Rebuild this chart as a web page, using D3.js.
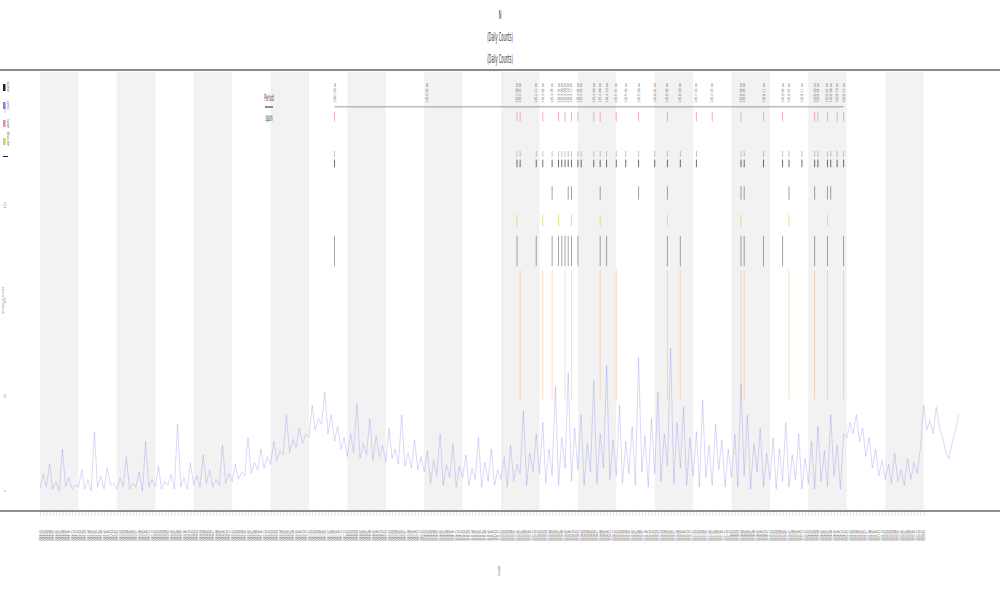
<!DOCTYPE html>
<html lang="en">
<head>
<meta charset="UTF-8">
<script src="https://d3js.org/d3.v7.min.js"></script>
<style>
  body { margin: 0; background: #fff; }
  svg { display: block; font-family: "DejaVu Sans", sans-serif; }
</style>
<title>Counts</title>
</head>
<body>
<script>
// ---- data ----
const titleLines = ["N", "(Daily Counts)", "(Daily Counts)"];
const legendLabels = ["events", "count", "alerts", "warnings", "mean"];
const legendColors = ["#222", "#8a7fd8", "#e58aa8", "#c8d84a", "#222"];
const yTicks = [0, 50, 100, 150, 200];

// monthly values, 2000-01 .. 2023-12 (12 per row)
const counts = [
  1, 9, 2, 14, 1, 5, 0, 22, 2, 7, 1, 3,
  2, 11, 1, 6, 0, 31, 2, 8, 1, 12, 3, 4,
  1, 7, 2, 18, 1, 4, 2, 10, 0, 26, 2, 6,
  2, 13, 1, 5, 3, 9, 1, 35, 2, 7, 1, 15,
  3, 8, 2, 19, 4, 11, 2, 6, 3, 24, 4, 9,
  5, 14, 6, 10, 8, 28, 9, 15, 11, 22, 12, 18,
  14, 26, 16, 21, 19, 40, 20, 27, 23, 33, 25, 30,
  28, 45, 32, 38, 35, 52, 30, 40, 26, 34, 22, 28,
  18, 30, 20, 46, 17, 25, 19, 38, 16, 29, 18, 24,
  15, 33, 17, 22, 14, 40, 13, 20, 12, 27, 11, 18,
  10, 21, 4, 16, 8, 30, 3, 14, 7, 25, 2, 13,
  7, 19, 3, 12, 6, 28, 2, 15, 5, 22, 3, 11,
  6, 18, 2, 24, 5, 14, 9, 42, 3, 20, 10, 30,
  9, 36, 4, 22, 8, 55, 3, 28, 12, 62, 5, 33,
  11, 40, 3, 25, 10, 58, 4, 30, 12, 66, 6, 27,
  8, 45, 4, 26, 9, 34, 3, 70, 10, 29, 2, 38,
  9, 52, 5, 30, 13, 75, 4, 36, 12, 44, 3, 28,
  8, 31, 2, 48, 7, 24, 3, 35, 11, 27, 2, 22,
  7, 30, 2, 56, 8, 40, 1, 25, 10, 33, 2, 20,
  6, 28, 1, 22, 5, 36, 2, 19, 6, 30, 1, 17,
  4, 26, 1, 34, 5, 21, 2, 40, 8, 24, 1, 30,
  28, 36, 30, 40, 26, 33, 18, 28, 12, 22, 8, 16,
  6, 14, 4, 20, 5, 11, 3, 17, 6, 15, 9, 22,
  45, 32, 37, 30, 44, 33, 28, 20, 17, 26, 32, 40
];

const eventDates = [
  "2007-09", "2010-02", "2012-06", "2012-07", "2012-12", "2013-02", "2013-05",
  "2013-07", "2013-08", "2013-09", "2013-10", "2013-11", "2014-01", "2014-02",
  "2014-06", "2014-08", "2014-10", "2015-01", "2015-04", "2015-08", "2016-01",
  "2016-05", "2016-09", "2017-02", "2017-07", "2018-04", "2018-05", "2018-11",
  "2019-05", "2019-07", "2019-11", "2020-03", "2020-04", "2020-07", "2020-08",
  "2020-10", "2020-12"
];
// which marker rows each event shows
const eventRows = [
  "RKB", "", "RKYB", "RKO", "KB", "RKYO", "KDBO",
  "RKYB", "KB", "RKBO", "KDB", "RKDYBO", "RKB", "K",
  "RK", "RKDYBO", "KB", "RKO", "K", "RKD", "K",
  "RKDYBO", "KBO", "RK", "R", "RKDYBO", "KDBO", "RKB",
  "RKB", "KDYO", "K", "RKDBO", "RK", "RKDYBO", "KD",
  "RK", "RKBO"
];

// ---- layout ----
const width = 1000, height = 600;
const parseMonth = d3.timeParse("%Y-%m");
const start = new Date(2000, 0, 1), end = new Date(2024, 0, 1);

const x = d3.scaleTime().domain([start, end]).range([40, 962]);
const y = d3.scaleLinear().domain([-10, 220]).range([510, 72]);

// marker rows, in y units
const rowStyle = {
  R: { lo: 194, hi: 199, color: "#e06060", w: 0.6, op: 0.8 },
  K: { lo: 170, hi: 174, color: "#333", w: 0.9, op: 0.8 },
  D: { lo: 153, hi: 160, color: "#444", w: 0.7, op: 0.7 },
  Y: { lo: 139, hi: 145, color: "#d8d040", w: 0.8, op: 0.8 },
  B: { lo: 118, hi: 134, color: "#333", w: 0.8, op: 0.55 },
  O: { lo: 48, hi: 116, color: "#f0a060", w: 0.6, op: 0.6 }
};

const series = counts.map((v, i) => ({ date: d3.timeMonth.offset(start, i), v }));
const events = eventDates.map((d, i) => ({ date: parseMonth(d), rows: eventRows[i], label: d + " ev" }));

const svg = d3.select("body").append("svg")
    .attr("width", width)
    .attr("height", height);

// alternating year bands
const years = d3.timeYears(start, end);
svg.append("g").selectAll("rect")
  .data(years.filter(d => d.getFullYear() % 2 === 0))
  .join("rect")
    .attr("x", d => x(d))
    .attr("width", d => x(d3.timeYear.offset(d, 1)) - x(d))
    .attr("y", y(220))
    .attr("height", y(-10) - y(220))
    .attr("fill", "#f2f2f2");

// title
svg.append("g").selectAll("text")
  .data(titleLines)
  .join("text")
    .attr("transform", (d, i) => `translate(500, ${19 + i * 22}) scale(0.3, 1)`)
    .attr("text-anchor", "middle")
    .attr("font-size", 12)
    .attr("fill", "#333")
    .text(d => d);

svg.append("line")
    .attr("x1", 0).attr("x2", width)
    .attr("y1", 70).attr("y2", 70)
    .attr("stroke", "#8a8a8a").attr("stroke-width", 2);

// main series
svg.append("path")
    .datum(series)
    .attr("fill", "none")
    .attr("stroke", "#7f7fe6")
    .attr("stroke-opacity", 0.5)
    .attr("stroke-width", 0.6)
    .attr("d", d3.line().x(d => x(d.date)).y(d => y(d.v)));

// event span line
svg.append("line")
    .attr("x1", x(events[0].date))
    .attr("x2", x(events[events.length - 1].date))
    .attr("y1", y(201.7)).attr("y2", y(201.7))
    .attr("stroke", "#999").attr("stroke-width", 1);

// event labels
svg.append("g").selectAll("text")
  .data(events)
  .join("text")
    .attr("transform", d => `translate(${x(d.date) + 1}, ${y(204)}) rotate(-90)`)
    .attr("font-size", 3.4)
    .attr("fill", "#777")
    .text(d => d.label);

// event marker rows
const marks = [];
events.forEach(e => e.rows.split("").forEach(r => marks.push({ date: e.date, r })));
svg.append("g").selectAll("line")
  .data(marks)
  .join("line")
    .attr("x1", d => x(d.date)).attr("x2", d => x(d.date))
    .attr("y1", d => y(rowStyle[d.r].lo))
    .attr("y2", d => y(rowStyle[d.r].hi))
    .attr("stroke", d => rowStyle[d.r].color)
    .attr("stroke-width", d => rowStyle[d.r].w)
    .attr("stroke-opacity", d => rowStyle[d.r].op);
// second small mark over the K row
svg.append("g").selectAll("line")
  .data(marks.filter(d => d.r === "K"))
  .join("line")
    .attr("x1", d => x(d.date)).attr("x2", d => x(d.date))
    .attr("y1", y(175.5)).attr("y2", y(178.5))
    .attr("stroke", "#999").attr("stroke-width", 0.6);

// span legend
const spanLeg = svg.append("g").attr("transform", "translate(269, 0)");
spanLeg.append("text").attr("transform", "translate(0, 101) scale(0.3, 1)")
    .attr("text-anchor", "middle").attr("font-size", 10).attr("fill", "#444").text("Period");
spanLeg.append("line").attr("x1", -4).attr("x2", 4).attr("y1", 107).attr("y2", 107)
    .attr("stroke", "#222").attr("stroke-width", 1);
spanLeg.append("text").attr("transform", "translate(0, 121) scale(0.3, 1)")
    .attr("text-anchor", "middle").attr("font-size", 10).attr("fill", "#444").text("span");

// legend
const leg = svg.append("g").selectAll("g")
  .data(legendLabels)
  .join("g")
    .attr("transform", (d, i) => `translate(3, ${88 + i * 18})`);
leg.append("rect")
    .attr("x", 0).attr("y", -4)
    .attr("width", (d, i) => i === 4 ? 5 : 2.5)
    .attr("height", (d, i) => i === 4 ? 1 : 7)
    .attr("fill", (d, i) => legendColors[i]);
leg.append("text")
    .attr("transform", "translate(6, 4) rotate(-90)")
    .attr("font-size", 3.2)
    .attr("fill", "#555")
    .text((d, i) => i === 4 ? "" : d);

// y axis labels
svg.append("g").selectAll("text")
  .data(yTicks)
  .join("text")
    .attr("transform", d => `translate(6, ${y(d)}) rotate(-90)`)
    .attr("text-anchor", "middle")
    .attr("font-size", 3)
    .attr("fill", "#888")
    .text(d => d);
svg.append("text")
    .attr("transform", `translate(4, ${y(100)}) rotate(-90)`)
    .attr("text-anchor", "middle")
    .attr("font-size", 3)
    .attr("fill", "#888")
    .text("number of records");

// x axis
const xAxis = svg.append("g")
    .attr("transform", "translate(0, 511)")
    .call(d3.axisBottom(x)
      .tickValues(d3.timeMonths(start, new Date(2023, 0, 2)))
      .tickSize(5)
      .tickFormat(d3.timeFormat("%Y-%m")));
xAxis.select(".domain").remove();
xAxis.selectAll(".tick line").attr("stroke", "#bbb").attr("stroke-width", 0.4);
xAxis.selectAll(".tick text")
    .attr("font-size", 3)
    .attr("fill", "#555")
    .attr("transform", "translate(0, 19) rotate(-90)")
    .attr("text-anchor", "end")
    .attr("dy", "0.35em")
    .attr("y", 0)
    .attr("x", 0);

svg.append("line")
    .attr("x1", 0).attr("x2", width)
    .attr("y1", 511).attr("y2", 511)
    .attr("stroke", "#222").attr("stroke-width", 1.2);

svg.append("text")
    .attr("transform", "translate(500, 571) rotate(-90)")
    .attr("text-anchor", "middle")
    .attr("font-size", 3)
    .attr("fill", "#555")
    .text("month");
</script>
</body>
</html>
